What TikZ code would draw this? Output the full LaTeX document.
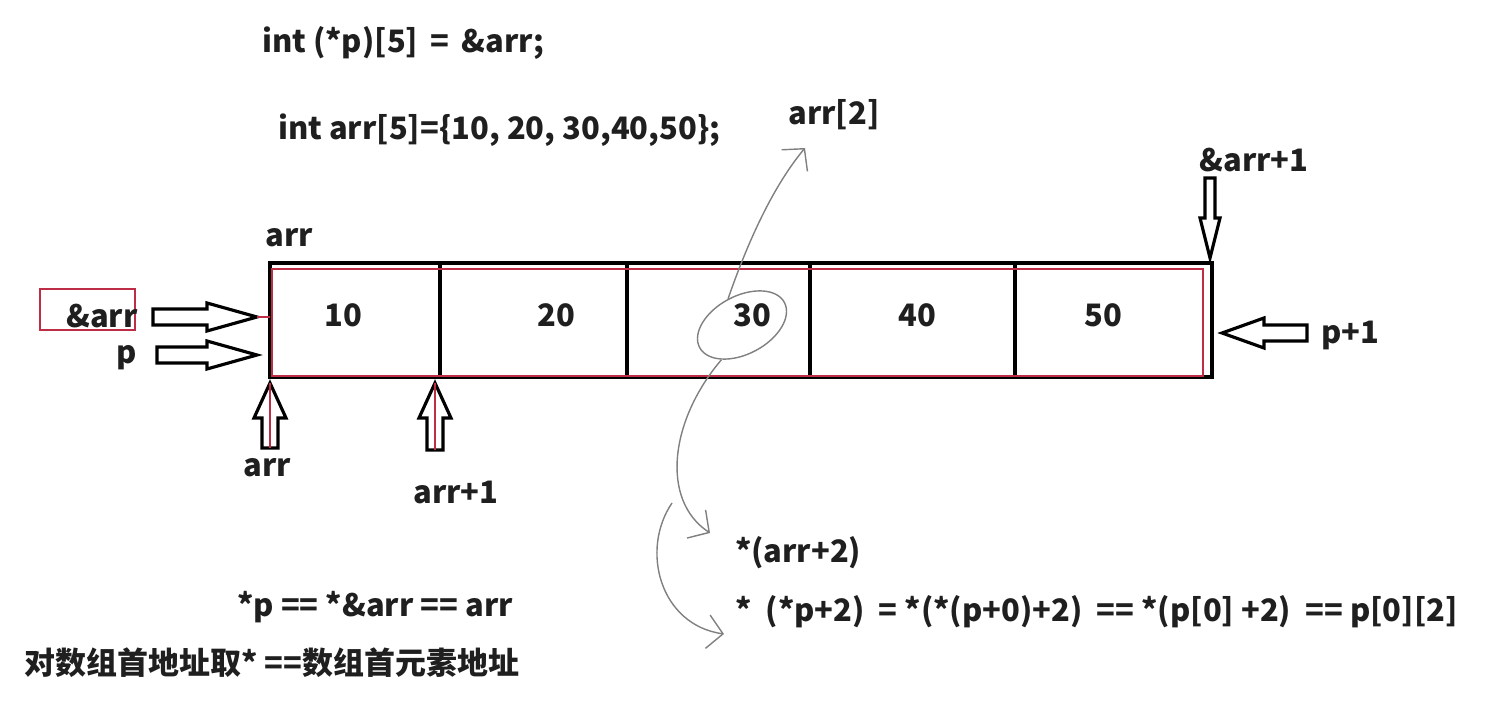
\documentclass[tikz,border=0pt]{standalone}
\usepackage{fontspec}
\setmainfont{Noto Sans CJK SC}
\usepackage{tikz}
\usetikzlibrary{arrows.meta}
\usetikzlibrary{positioning,calc}
\usetikzlibrary{shapes.geometric}
\usepackage{xcolor}
\definecolor{boxred}{RGB}{190,45,70}
\definecolor{pengray}{RGB}{128,128,128}
\tikzset{
    every node/.style={font=\bfseries\fontsize{17.6}{21}\selectfont, text=black!88, inner sep=1pt},
    cell/.style={
        draw,
        line width=2pt,
        minimum height=2.28cm,
        outer sep=0pt
    },
    fat/.style={
        draw,
        line width=1.8pt,
        fill=white,
        line join=miter
    },
    pen/.style={
        draw=pengray,
        line width=0.8pt
    },
    pentip/.style={
        -{Straight Barb[angle=95:13pt, line width=0.8pt]}
    }
}
% hollow block arrow: tail, tip, shaft half width, head half width, head length
\newcommand{\fatarrow}[5]{%
    \coordinate (hb) at ($(#2)!#5!(#1)$);
    \draw[fat] ($(#1)!#3!90:(#2)$) -- ($(hb)!#3!90:(#2)$) -- ($(hb)!#4!90:(#2)$) -- (#2)
        -- ($(hb)!#4!-90:(#2)$) -- ($(hb)!#3!-90:(#2)$) -- ($(#1)!#3!-90:(#2)$) -- cycle;
}

\begin{document}
\begin{tikzpicture}[x=0.02cm, y=-0.02cm]
    \useasboundingbox (0,0) rectangle (1501,715);

    % declarations
    \node[anchor=west] (decl1) at (260,43) {int (*p)[5] \,= \,\&arr;};
    \node[anchor=west] (decl2) at (276,130) {int arr[5]=\{10, 20, 30,40,50\};};

    % the array
    \node[cell, minimum width=3.40cm] (c1) at (355,320) {};
    \node[cell, minimum width=3.74cm] (c2) at (533.5,320) {};
    \node[cell, minimum width=3.66cm] (c3) at (718.5,320) {};
    \node[cell, minimum width=4.10cm] (c4) at (912.5,320) {};
    \node[cell, minimum width=3.94cm] (c5) at (1113.5,320) {};
    \draw[boxred, line width=0.8pt] (272,269) rectangle (1203,376);

    \node (v1) at (343,315) {10};
    \node (v2) at (556,315) {20};
    \node (v3) at (752,315) {30};
    \node (v4) at (917,315) {40};
    \node (v5) at (1103,315) {50};

    \node (arrtop) at (289,238) {arr};

    % left side
    \node[draw=boxred, line width=0.9pt, minimum width=1.9cm, minimum height=0.82cm] (addrbox) at (87.5,309.5) {};
    \node (addr) at (102,316) {\&arr};
    \node (p) at (127,358) {p};
    \coordinate (addrtail) at (153,317);
    \coordinate (addrtip) at (257,317);
    \coordinate (ptail) at (157,355);
    \coordinate (ptip) at (257,355);
    \fatarrow{addrtail}{addrtip}{0.16cm}{0.28cm}{1.0cm}
    \fatarrow{ptail}{ptip}{0.16cm}{0.28cm}{1.0cm}
    \draw[boxred, line width=0.8pt] (addrtip) -- (c1.west |- addrtip);

    % below the array
    \node (arrbot) at (267,468) {arr};
    \node (arrone) at (456,492) {arr+1};
    \coordinate (a0tail) at (270,448);
    \coordinate (a0tip) at (270,383);
    \coordinate (a1tail) at (435,450);
    \coordinate (a1tip) at (435,383);
    \fatarrow{a0tail}{a0tip}{0.16cm}{0.32cm}{0.7cm}
    \fatarrow{a1tail}{a1tip}{0.16cm}{0.32cm}{0.7cm}
    \draw[boxred, line width=1pt] (a0tail) -- (a0tip);
    \draw[boxred, line width=1pt] (a1tail) -- (a1tip);

    % right side
    \node (endaddr) at (1254,160) {\&arr+1};
    \node (pone) at (1350,335) {p+1};
    \coordinate (endtail) at (1210,178);
    \coordinate (endtip) at (1210,258);
    \coordinate (ponetail) at (1307,333);
    \coordinate (ponetip) at (1222,333);
    \fatarrow{endtail}{endtip}{0.1cm}{0.2cm}{0.8cm}
    \fatarrow{ponetail}{ponetip}{0.16cm}{0.3cm}{0.84cm}

    % hand drawn marks round 30
    \node[pen, ellipse, minimum width=1.92cm, minimum height=1.16cm, rotate=28] (ring) at (742,325) {};
    \node (elem) at (834,115) {arr[2]};
    \coordinate (elemtip) at (805,148);
    \draw[pen, pentip] (ring.north) .. controls (745,250) and (770,190) .. (elemtip);
    \node[anchor=west] (deref) at (733,553) {*(arr+2)};
    \coordinate (dereftip) at (710,533);
    \draw[pen, pentip] (ring.south west) .. controls (670,420) and (660,500) .. (dereftip);
    \node[anchor=west] (chain) at (733,612) {*\ \ (*p+2) \ = *(*(p+0)+2) \ == *(p[0] +2) \ == p[0][2]};
    \coordinate (chainfrom) at (672,503);
    \coordinate (chaintip) at (724,634);
    \draw[pen, pentip] (chainfrom) .. controls (640,550) and (660,625) .. (chaintip);

    % notes
    \node (note1) at (375,607) {*p == *\&arr == arr};
    \node (note2) at (272,663) {对数组首地址取* ==数组首元素地址};
\end{tikzpicture}
\end{document}
